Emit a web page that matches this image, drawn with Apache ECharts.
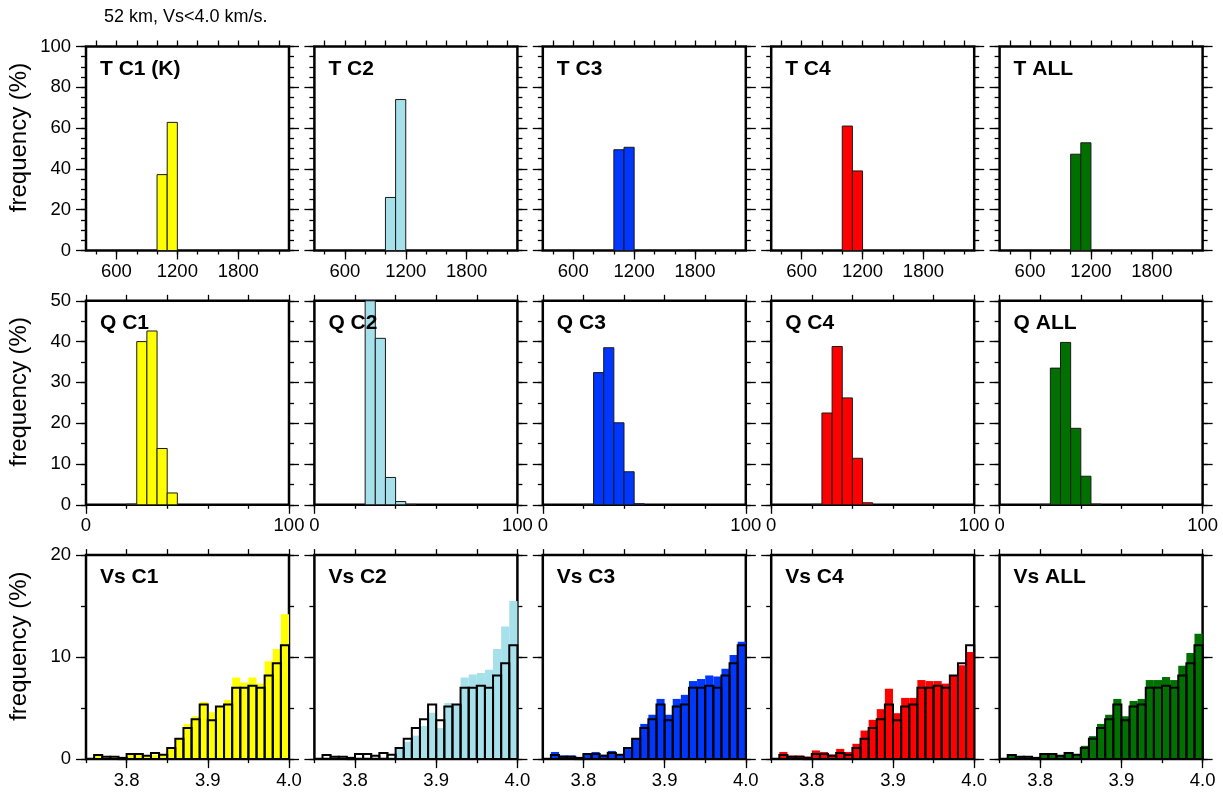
<!DOCTYPE html>
<html><head><meta charset="utf-8">
<script src="https://cdn.jsdelivr.net/npm/echarts@6/dist/echarts.min.js"></script>
<style>html,body{margin:0;padding:0;background:#fff}#c{width:1223px;height:792px}</style>
</head><body><div id="c"></div>
<script>
// ---------------- DATA ----------------
const MAIN_TITLE = '52 km, Vs<4.0 km/s.';
const Y_NAME = 'frequency (%)';
const T_LABELS = ['T C1 (K)', 'T C2', 'T C3', 'T C4', 'T ALL'];
const Q_LABELS = ['Q C1', 'Q C2', 'Q C3', 'Q C4', 'Q ALL'];
const VS_LABELS = ['Vs C1', 'Vs C2', 'Vs C3', 'Vs C4', 'Vs ALL'];
const COLORS = ['#ffff00', '#a6e0ea', '#0037ff', '#ff0000', '#007000'];

// Temperature histograms (bins of 100 K)
const T_BIN_LEFT = [1000, 1100];
const T_BIN_WIDTH = 100;
const T_C1 = [37.2, 62.8];
const T_C2 = [26.0, 74.0];
const T_C3 = [49.4, 50.6];
const T_C4 = [61.0, 39.0];
const T_ALL = [47.2, 52.8];

// Q histograms (bins of 5)
const Q_BIN_LEFT = [20, 25, 30, 35, 40, 45];
const Q_BIN_WIDTH = 5;
const Q_C1 = [0.15, 40.0, 42.6, 13.8, 2.9, 0];
const Q_C2 = [0, 51.0, 40.8, 6.7, 0.8, 0.1];
const Q_C3 = [0.1, 32.4, 38.5, 20.1, 8.1, 0.25];
const Q_C4 = [0.1, 22.5, 38.8, 26.2, 11.4, 0.5];
const Q_ALL = [0.1, 33.5, 39.8, 18.75, 7.0, 0.15];

// Vs histograms (bins of 0.01 km/s)
const VS_BIN_LEFT = [3.75, 3.76, 3.77, 3.78, 3.79, 3.80, 3.81, 3.82, 3.83, 3.84, 3.85, 3.86, 3.87,
                     3.88, 3.89, 3.90, 3.91, 3.92, 3.93, 3.94, 3.95, 3.96, 3.97, 3.98, 3.99];
const VS_BIN_WIDTH = 0.01;
const VS_REF = [0, 0.4, 0.22, 0.22, 0.12, 0.5, 0.5, 0.33, 0.6, 0.42, 1.08, 2.0, 3.05,
                3.9, 5.35, 3.8, 5.15, 5.35, 7.0, 7.0, 7.2, 7.0, 8.2, 9.4, 11.15];
const VS_C1 = [0, 0.4, 0.25, 0.2, 0.07, 0.5, 0.5, 0.3, 0.4, 0.4, 1.1, 2.05, 3.45,
               4.2, 5.6, 4.6, 5.15, 5.8, 8.0, 7.5, 8.0, 7.4, 9.6, 10.8, 14.2];
const VS_C2 = [0, 0.1, 0.05, 0.05, 0.05, 0.1, 0.05, 0.05, 0.05, 0.2, 1.0, 1.7, 2.3,
               3.25, 4.55, 3.05, 5.5, 5.35, 8.0, 8.3, 8.45, 8.75, 10.8, 13.0, 15.5];
const VS_C3 = [0, 0.7, 0.36, 0.36, 0.2, 0.55, 0.7, 0.43, 0.8, 0.45, 1.15, 2.03, 3.45,
               4.35, 5.9, 4.35, 5.9, 6.3, 7.65, 7.85, 8.2, 8.1, 8.85, 10.2, 11.5];
const VS_C4 = [0, 0.7, 0.35, 0.35, 0.25, 0.85, 0.7, 0.45, 1.0, 0.7, 1.5, 2.8, 3.85,
               4.9, 6.9, 4.5, 6.0, 6.0, 7.75, 7.65, 7.65, 7.4, 8.2, 9.2, 10.5];
const VS_ALL = [0, 0.45, 0.3, 0.3, 0.15, 0.55, 0.55, 0.35, 0.7, 0.45, 1.3, 2.25, 3.45,
                4.35, 5.9, 4.2, 5.7, 5.9, 7.75, 7.75, 8.05, 7.75, 9.15, 10.4, 12.3];

// Axis ticks / labels
const T_X_LABELS = [600, 1200, 1800];
const T_X_TICKS = [400, 600, 800, 1000, 1200, 1400, 1600, 1800, 2000, 2200];
const T_Y_LABELS = [0, 20, 40, 60, 80, 100];
const T_Y_TICKS = [0, 5, 10, 15, 20, 25, 30, 35, 40, 45, 50, 55, 60, 65, 70, 75, 80, 85, 90, 95, 100];
const Q_X_LABELS = [0, 100];
const Q_X_TICKS = [0, 20, 40, 60, 80, 100];
const Q_Y_LABELS = [0, 10, 20, 30, 40, 50];
const Q_Y_TICKS = [0, 5, 10, 15, 20, 25, 30, 35, 40, 45, 50];
const VS_X_LABELS = [3.8, 3.9, 4.0];
const VS_X_TICKS = [3.75, 3.8, 3.85, 3.9, 3.95, 4.0];
const VS_Y_LABELS = [0, 10, 20];
const VS_Y_TICKS = [0, 5, 10, 15, 20];

// ---------------- CHART ----------------
const FONT = "'Liberation Sans', Arial, Helvetica, sans-serif";
const ROWS = [
  { labels: T_LABELS, binLeft: T_BIN_LEFT, binW: T_BIN_WIDTH, data: [T_C1, T_C2, T_C3, T_C4, T_ALL],
    xMin: 300, xMax: 2300, xLab: T_X_LABELS, xTicks: T_X_TICKS, yMax: 100,
    yLab: T_Y_LABELS, yTicks: T_Y_TICKS, fmt: v => String(v) },
  { labels: Q_LABELS, binLeft: Q_BIN_LEFT, binW: Q_BIN_WIDTH, data: [Q_C1, Q_C2, Q_C3, Q_C4, Q_ALL],
    xMin: 0, xMax: 100, xLab: Q_X_LABELS, xTicks: Q_X_TICKS, yMax: 50,
    yLab: Q_Y_LABELS, yTicks: Q_Y_TICKS, fmt: v => String(v) },
  { labels: VS_LABELS, binLeft: VS_BIN_LEFT, binW: VS_BIN_WIDTH, data: [VS_C1, VS_C2, VS_C3, VS_C4, VS_ALL],
    ref: VS_REF, xMin: 3.75, xMax: 4.0, xLab: VS_X_LABELS, xTicks: VS_X_TICKS, yMax: 20,
    yLab: VS_Y_LABELS, yTicks: VS_Y_TICKS, fmt: v => Number(v).toFixed(1) }
];

const GRID_LEFT0 = 86, GRID_DX = 228.4, GRID_W = 203;
const GRID_TOP0 = 46.5, GRID_DY = 254.3, GRID_H = 204;

function histItem(binW, fill, stroke, lw) {
  return function (params, api) {
    const x0 = api.value(0), v = api.value(1);
    if (!(v > 0)) return null;
    const p0 = api.coord([x0, 0]);
    const p1 = api.coord([x0 + binW, v]);
    const rect = { x: p0[0], y: p1[1], width: p1[0] - p0[0], height: p0[1] - p1[1] };
    const cs = params.coordSys;
    const c = echarts.graphic.clipRectByRect(rect, { x: cs.x, y: cs.y, width: cs.width, height: cs.height });
    if (!c) return null;
    return { type: 'rect', shape: c, style: { fill: fill, stroke: stroke, lineWidth: lw } };
  };
}

const grids = [], xAxes = [], yAxes = [], series = [], titles = [];
titles.push({ text: MAIN_TITLE, left: 104, top: 8, padding: 0,
  textStyle: { fontFamily: FONT, fontSize: 18, fontWeight: 'normal', color: '#000' } });

const lblStyle = { fontFamily: FONT, fontSize: 18.5, color: '#000' };
const tickLine = { color: '#000', width: 1.3 };

ROWS.forEach((row, r) => {
  for (let c = 0; c < 5; c++) {
    const g = r * 5 + c;
    const left = GRID_LEFT0 + c * GRID_DX, top = GRID_TOP0 + r * GRID_DY;
    grids.push({ left: left, top: top, width: GRID_W, height: GRID_H, show: true,
      borderColor: '#000', borderWidth: 2.5, backgroundColor: 'transparent', containLabel: false });
    titles.push({ text: row.labels[c], left: left + 14, top: top + 12, padding: 0,
      textStyle: { fontFamily: FONT, fontSize: 21, fontWeight: 'bold', color: '#000' } });
    const xBase = { type: 'value', gridIndex: g, min: row.xMin, max: row.xMax,
      axisLine: { show: false, onZero: false }, splitLine: { show: false } };
    // bottom major (labels)
    xAxes.push(Object.assign({}, xBase, { position: 'bottom',
      axisTick: { show: true, inside: false, length: 9, lineStyle: tickLine, customValues: row.xLab },
      axisLabel: { show: true, margin: 12, formatter: row.fmt, customValues: row.xLab, ...lblStyle } }));
    // bottom minor
    xAxes.push(Object.assign({}, xBase, { position: 'bottom',
      axisTick: { show: true, inside: false, length: 4, lineStyle: tickLine, customValues: row.xTicks },
      axisLabel: { show: false } }));
    // top
    xAxes.push(Object.assign({}, xBase, { position: 'top',
      axisTick: { show: true, inside: false, length: 6, lineStyle: tickLine, customValues: row.xTicks },
      axisLabel: { show: false } }));
    const yBase = { type: 'value', gridIndex: g, min: 0, max: row.yMax,
      axisLine: { show: false, onZero: false }, splitLine: { show: false } };
    const leftMajor = Object.assign({}, yBase, { position: 'left',
      axisTick: { show: true, inside: false, length: 10, lineStyle: tickLine, customValues: row.yLab },
      axisLabel: { show: c === 0, margin: 15, customValues: row.yLab, ...lblStyle } });
    if (c === 0) {
      leftMajor.name = Y_NAME;
      leftMajor.nameLocation = 'middle';
      leftMajor.nameGap = 55;
      leftMajor.nameTextStyle = { fontFamily: FONT, fontSize: 24, color: '#000', padding: [0, 0, 0, 22] };
    }
    yAxes.push(leftMajor);
    yAxes.push(Object.assign({}, yBase, { position: 'left',
      axisTick: { show: true, inside: false, length: 5, lineStyle: tickLine, customValues: row.yTicks },
      axisLabel: { show: false } }));
    yAxes.push(Object.assign({}, yBase, { position: 'right',
      axisTick: { show: true, inside: false, length: 10, lineStyle: tickLine, customValues: row.yLab },
      axisLabel: { show: false } }));
    yAxes.push(Object.assign({}, yBase, { position: 'right',
      axisTick: { show: true, inside: false, length: 5, lineStyle: tickLine, customValues: row.yTicks },
      axisLabel: { show: false } }));

    const xi = g * 3, yi = g * 4;
    const vals = row.data[c];
    const isVs = !!row.ref;
    series.push({ type: 'custom', xAxisIndex: xi, yAxisIndex: yi, silent: true, animation: false, z: 3,
      renderItem: histItem(row.binW, COLORS[c], isVs ? null : '#1a1a1a', isVs ? 0 : 1),
      encode: { x: 0, y: 1 },
      data: row.binLeft.map((b, i) => [b, vals[i]]) });
    if (isVs) {
      series.push({ type: 'custom', xAxisIndex: xi, yAxisIndex: yi, silent: true, animation: false, z: 4,
        renderItem: histItem(row.binW, 'rgba(0,0,0,0)', '#000', 2),
        encode: { x: 0, y: 1 },
        data: row.binLeft.map((b, i) => [b, row.ref[i]]) });
    }
  }
});

const chart = echarts.init(document.getElementById('c'));
chart.setOption({
  animation: false,
  backgroundColor: '#fff',
  title: titles,
  grid: grids,
  xAxis: xAxes,
  yAxis: yAxes,
  series: series
});
</script>
</body></html>
